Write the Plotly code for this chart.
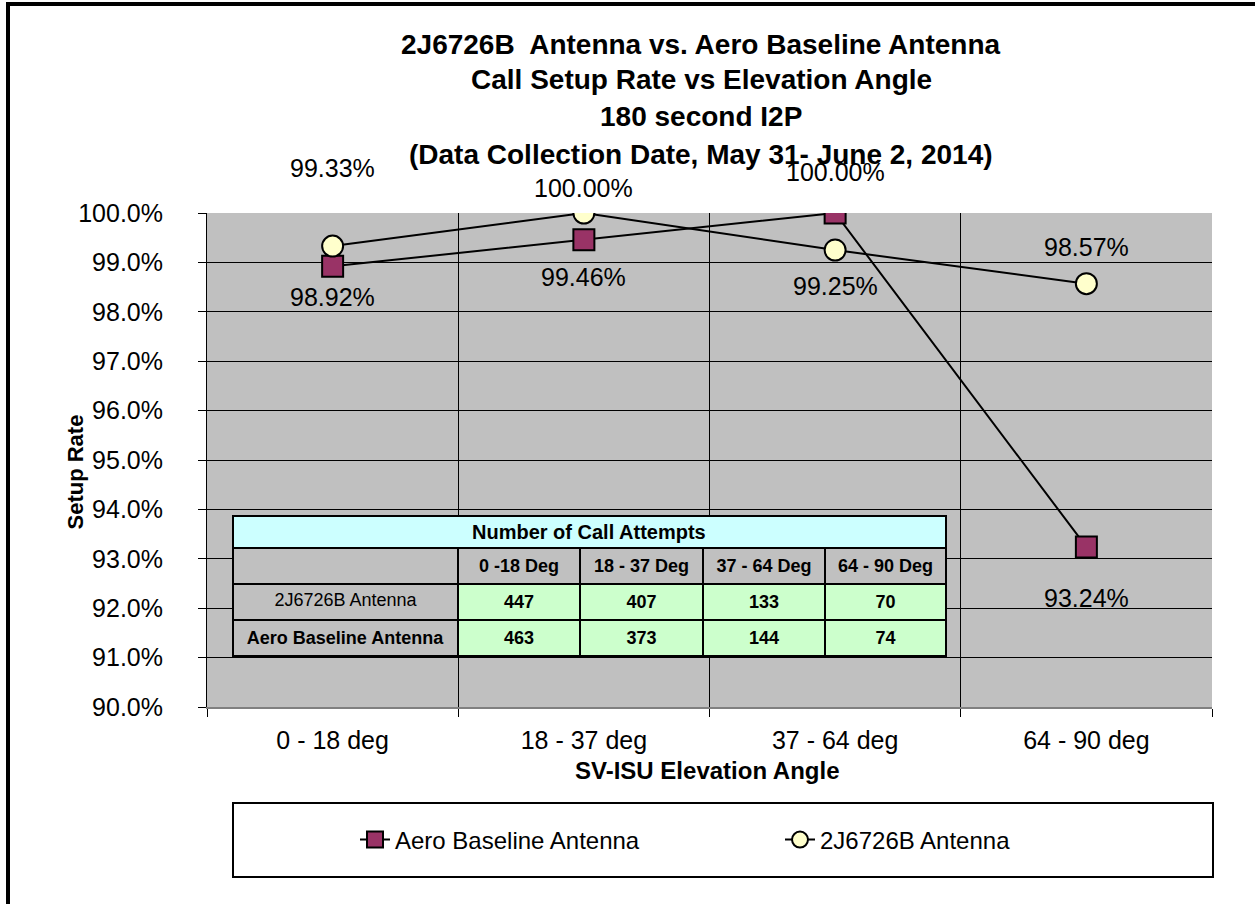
import plotly.graph_objects as go

# chart data
angles = ["0 - 18 deg", "18 - 37 deg", "37 - 64 deg", "64 - 90 deg"]
aero_rate = [98.92, 99.46, 100.00, 93.24]
ant_rate = [99.33, 100.00, 99.25, 98.57]

# table data
table_title = "Number of Call Attempts"
table_cols = ["0 -18 Deg", "18 - 37 Deg", "37 - 64 Deg", "64 - 90 Deg"]
table_rows = ["2J6726B Antenna", "Aero Baseline Antenna"]
ant_attempts = [447, 407, 133, 70]
aero_attempts = [463, 373, 144, 74]

title_lines = ["2J6726B  Antenna vs. Aero Baseline Antenna",
               "Call Setup Rate vs Elevation Angle",
               "180 second I2P",
               "(Data Collection Date, May 31- June 2, 2014)"]

FONT = "Liberation Sans, Arial, sans-serif"
NARROW = "Liberation Sans Narrow, Arial Narrow, Liberation Sans, sans-serif"

# plot area in pixels
W, H = 1255, 904
L, R, T, B = 207, 1212, 213, 707
def px_x(p):
    return (p - L) / (R - L)
def px_y(p):
    return (B - p) / (B - T)

fig = go.Figure()

fig.add_trace(go.Scatter(
    x=angles, y=aero_rate, name="Aero Baseline Antenna", mode="lines+markers",
    line=dict(color="black", width=2),
    marker=dict(symbol="square", size=21, color="#993366", line=dict(color="black", width=2)),
))
fig.add_trace(go.Scatter(
    x=angles, y=ant_rate, name="2J6726B Antenna", mode="lines+markers",
    line=dict(color="black", width=2),
    marker=dict(symbol="circle", size=21, color="#FFFFCC", line=dict(color="black", width=2)),
))

# point labels
aero_shift = [-31, -37, 41, -51]
ant_shift = [78, 25, -36, 37]
for vals, shifts in ((aero_rate, aero_shift), (ant_rate, ant_shift)):
    for cat, v, s in zip(angles, vals, shifts):
        fig.add_annotation(x=cat, y=v, xref="x", yref="y", text=f"{v:.2f}%",
                           showarrow=False, yshift=s,
                           font=dict(family=FONT, size=25, color="black"))

# table: title row drawn as a shape, the rest as a go.Table
fig.add_shape(type="rect", xref="paper", yref="paper",
              x0=px_x(233), x1=px_x(946), y0=px_y(548), y1=px_y(516),
              line=dict(color="black", width=2), fillcolor="#CCFFFF", layer="above")
fig.add_annotation(x=px_x(589), y=px_y(532), xref="paper", yref="paper",
                   text=f"<b>{table_title}</b>", showarrow=False,
                   font=dict(family=NARROW, size=20, color="black"))

fig.add_trace(go.Table(
    domain=dict(x=[px_x(233), px_x(946)], y=[px_y(660), px_y(548)]),
    columnwidth=[225, 122, 123, 122, 121],
    header=dict(values=[""] + [f"<b>{c}</b>" for c in table_cols],
                fill_color="#C0C0C0", line=dict(color="black", width=2), height=30,
                align="center", font=dict(family=NARROW, size=18, color="black")),
    cells=dict(values=[[table_rows[0], f"<b>{table_rows[1]}</b>"]] +
                      [[f"<b>{a}</b>", f"<b>{b}</b>"] for a, b in zip(ant_attempts, aero_attempts)],
               fill_color=[["#C0C0C0", "#C0C0C0"]] + [["#CCFFCC", "#CCFFCC"]] * 4,
               line=dict(color="black", width=2), height=32, align="center",
               font=dict(family=NARROW, size=18, color="black")),
))

# title lines
for txt, yp in zip(title_lines, [44, 79, 116, 154]):
    fig.add_annotation(x=px_x(701), y=px_y(yp), xref="paper", yref="paper",
                       text=f"<b>{txt}</b>", showarrow=False, xanchor="center", yanchor="middle",
                       font=dict(family=FONT, size=28, color="black"))

# axis titles
fig.add_annotation(x=px_x(707), y=px_y(770), xref="paper", yref="paper",
                   text="<b>SV-ISU Elevation Angle</b>", showarrow=False, yanchor="middle",
                   font=dict(family=FONT, size=24, color="black"))
fig.add_annotation(x=px_x(60), y=px_y(472), xref="paper", yref="paper",
                   text="<b>Setup Rate</b>", showarrow=False, textangle=-90,
                   font=dict(family=FONT, size=22, color="black"))

# legend box and outer frame
fig.add_shape(type="rect", xref="paper", yref="paper",
              x0=px_x(233), x1=px_x(1213), y0=px_y(877), y1=px_y(803),
              line=dict(color="black", width=2), fillcolor="white", layer="below")
fig.add_shape(type="rect", xref="paper", yref="paper",
              x0=px_x(8), x1=px_x(1300), y0=px_y(950), y1=px_y(4),
              line=dict(color="black", width=4), layer="below")

fig.update_layout(
    width=W, height=H,
    margin=dict(l=L, r=W - R, t=T, b=H - B),
    paper_bgcolor="white", plot_bgcolor="#C0C0C0",
    font=dict(family=FONT, size=24, color="black"),
    showlegend=True,
    legend=dict(orientation="h", x=px_x(355), y=px_y(840), xanchor="left", yanchor="middle",
                entrywidth=380, entrywidthmode="pixels", bgcolor="rgba(0,0,0,0)",
                font=dict(family=FONT, size=24, color="black"), itemwidth=30),
)
fig.update_xaxes(type="category", tickson="boundaries", showgrid=True, gridcolor="black",
                 gridwidth=1, ticks="outside", ticklen=8, tickcolor="black",
                 showline=True, linecolor="#808080", linewidth=2, range=[-0.5, 3.5],
                 ticklabelstandoff=10, tickfont=dict(size=25), fixedrange=True)
fig.update_yaxes(range=[90, 100], dtick=1, tickformat=".1f", ticksuffix="%",
                 showgrid=True, gridcolor="black", gridwidth=1, ticks="outside", ticklen=8,
                 tickcolor="black", showline=True, linecolor="black", linewidth=1,
                 ticklabelstandoff=30, tickfont=dict(size=25), zeroline=False, fixedrange=True)

fig.write_html("out.html", config={"displayModeBar": False},
               post_script="document.body.style.margin='0';")
